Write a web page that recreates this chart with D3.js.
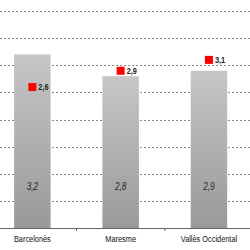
<!DOCTYPE html>
<html><head><meta charset="utf-8">
<script src="https://cdn.jsdelivr.net/npm/d3@7"></script>
<style>html,body{margin:0;padding:0;background:#fff;}svg{display:block;}</style>
</head><body>
<svg id="c" width="250" height="250"></svg>
<script>
const categories = ["Barcelonès", "Maresme", "Vallès Occidental"];
const barValues = [3.2, 2.8, 2.9];
const markerValues = [2.6, 2.9, 3.1];
const barLabels = ["3,2", "2,8", "2,9"];
const markerLabels = ["2,6", "2,9", "3,1"];
const gridTicks = [0.5, 1, 1.5, 2, 2.5, 3, 3.5, 4];

const svg = d3.select("#c");
const font = "'Liberation Sans Narrow','Arial Narrow','Liberation Sans',Arial,sans-serif";
const sx = 0.82;

const x = d3.scaleBand().domain(categories).range([-11.8, 253.1])
  .paddingInner(0.587).paddingOuter(0.2935);
const y = d3.scaleLinear().domain([0, 4]).range([228.3, 11]);

const defs = svg.append("defs");
const g = defs.append("linearGradient").attr("id", "bg").attr("x1", 0).attr("y1", 0).attr("x2", 0).attr("y2", 1);
g.append("stop").attr("offset", "0%").attr("stop-color", "#c6c6c6");
g.append("stop").attr("offset", "100%").attr("stop-color", "#999999");

// gridlines
svg.append("g").selectAll("line").data(gridTicks).join("line")
  .attr("x1", 0).attr("x2", 250)
  .attr("y1", d => Math.round(y(d)) + 0.5).attr("y2", d => Math.round(y(d)) + 0.5)
  .attr("stroke", "#8a8a8a").attr("stroke-width", 1).attr("stroke-dasharray", "2,2");

// bars
svg.append("g").selectAll("rect").data(categories).join("rect")
  .attr("x", d => x(d)).attr("width", x.bandwidth())
  .attr("y", (d, i) => y(barValues[i])).attr("height", (d, i) => y(0) - y(barValues[i]))
  .attr("fill", "url(#bg)");

// axis
const xAxis = d3.axisBottom(x).tickSize(0).tickFormat(d => d);
const ax = svg.append("g").attr("transform", `translate(0,${Math.round(y(0))})`).call(xAxis);
ax.select(".domain").attr("stroke", "#666").attr("d", "M0,0.5H250");
ax.selectAll(".tick text").attr("font-family", font).attr("font-size", 9).attr("fill", "#111")
  .attr("dy", null).attr("y", 14.5).attr("x", 0).attr("transform", `scale(${sx},1)`);
// boundary ticks
const bounds = [x(categories[0]) + x.bandwidth() + (x.step() - x.bandwidth()) / 2, x(categories[1]) + x.bandwidth() + (x.step() - x.bandwidth()) / 2];
ax.selectAll("line.b").data(bounds).join("line").attr("class", "b")
  .attr("x1", d => d).attr("x2", d => d).attr("y1", 0).attr("y2", 3).attr("stroke", "#666");

// bar labels
svg.append("g").selectAll("text").data(categories).join("text")
  .attr("transform", d => `translate(${x(d) + x.bandwidth() / 2},190) scale(${sx},1)`)
  .attr("text-anchor", "middle").attr("font-family", font).attr("font-size", 10)
  .attr("font-style", "italic").attr("fill", "#262626")
  .text((d, i) => barLabels[i]);

// markers
const ms = 8;
svg.append("g").selectAll("rect").data(categories).join("rect")
  .attr("x", d => x(d) + x.bandwidth() / 2 - ms / 2)
  .attr("y", (d, i) => y(markerValues[i]) - ms / 2)
  .attr("width", ms).attr("height", ms).attr("fill", "#ff0000");
svg.append("g").selectAll("text").data(categories).join("text")
  .attr("transform", (d, i) => `translate(${x(d) + x.bandwidth() / 2 + ms / 2 + 2},${y(markerValues[i]) + 3.2}) scale(${sx},1)`)
  .attr("font-family", font).attr("font-size", 9).attr("font-weight", "bold").attr("fill", "#222")
  .text((d, i) => markerLabels[i]);
</script>
</body></html>
